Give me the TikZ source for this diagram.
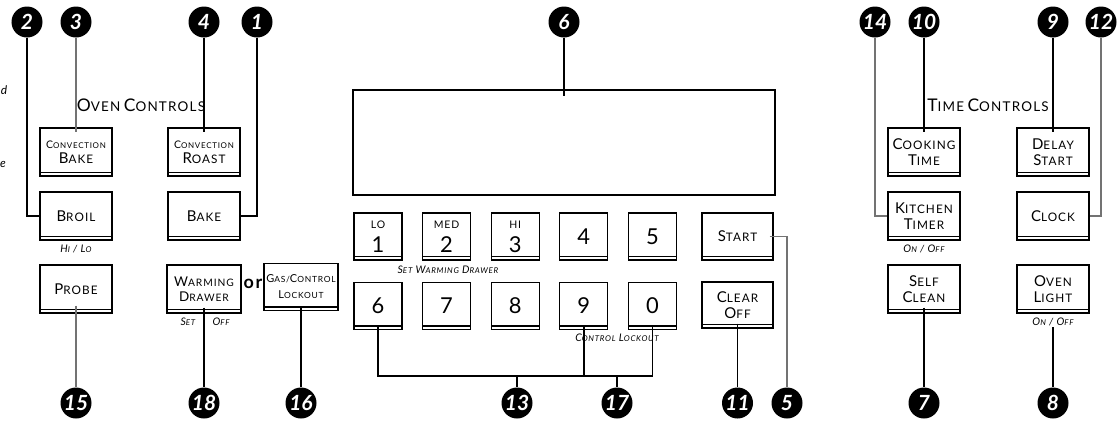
\documentclass[tikz,border=0pt]{standalone}
\usepackage{fontspec}
\setmainfont{Lato}[LetterSpace=9]
\newfontfamily\badgefont{Lato}
\newcommand{\bigsc}[2]{{\fontsize{15}{16}\selectfont #1}{\fontsize{11.8}{16}\selectfont #2}}
\newcommand{\midsc}[2]{{\fontsize{13.5}{16}\selectfont #1}{\fontsize{10.3}{16}\selectfont #2}}
\newcommand{\smlsc}[2]{{\fontsize{10.5}{12}\selectfont #1}{\fontsize{8}{12}\selectfont #2}}
\newcommand{\gassc}[2]{{\fontsize{11}{13}\selectfont #1}{\fontsize{8.5}{13}\selectfont #2}}
\newcommand{\ttlsc}[2]{{\fontsize{17.5}{20}\selectfont #1}{\fontsize{13.5}{20}\selectfont #2}}
\begin{document}
\begin{tikzpicture}[x=1bp, y=-1bp,
    every node/.append style={font=\rmfamily},
    btn/.style={draw, line width=1.3bp, minimum width=72bp, minimum height=48bp, inner sep=0pt, align=center, font=\fontsize{12}{15.5}\selectfont,
        path picture={\draw[line width=1.4bp] ([yshift=3.5bp]path picture bounding box.south west) -- ([yshift=3.5bp]path picture bounding box.south east);}},
    key/.style={btn, minimum width=48bp, minimum height=47bp, font=\fontsize{22}{24}\selectfont},
    badge/.style={circle, fill=black, minimum size=31bp, inner sep=0pt, text=white, font=\badgefont\bfseries\itshape\fontsize{21}{21}\selectfont},
    tag/.style={inner sep=1pt, font=\itshape},
    wire/.style={line width=1.6bp},
    faint/.style={line width=1.1bp, black!55},
]
\useasboundingbox (0,0) rectangle (1118,422);

% numbered callouts
\node[badge] (b2) at (27,22) {2};
\node[badge] (b3) at (76,22) {3};
\node[badge] (b4) at (204,22) {4};
\node[badge] (b1) at (257,22) {1};
\node[badge] (b6) at (564,22) {6};
\node[badge] (b14) at (875,22) {14};
\node[badge] (b10) at (924,22) {10};
\node[badge] (b9) at (1053,22) {9};
\node[badge] (b12) at (1101,22) {12};
\node[badge] (b15) at (76,403) {15};
\node[badge] (b18) at (204,403) {18};
\node[badge] (b16) at (301,403) {16};
\node[badge] (b13) at (517,403) {13};
\node[badge] (b17) at (617,403) {17};
\node[badge] (b11) at (737.5,403) {11};
\node[badge] (b5) at (787,403) {5};
\node[badge] (b7) at (924,403) {7};
\node[badge] (b8) at (1053,403) {8};

\node[font=\itshape\fontsize{12}{12}\selectfont] (fragd) at (4,90) {d};
\node[font=\itshape\fontsize{12}{12}\selectfont] (frage) at (3,164) {e};

\node (oven) at (141,105) {\ttlsc{O}{VEN} \ttlsc{C}{ONTROLS}};
\node (time) at (988,105) {\ttlsc{T}{IME} \ttlsc{C}{ONTROLS}};

% oven controls
\node[btn] (cbake) at (76,152) {\smlsc{C}{ONVECTION}\\\bigsc{B}{AKE}};
\node[btn] (broil) at (76,216) {\bigsc{B}{ROIL}};
\node[btn] (probe) at (76,289) {\bigsc{P}{ROBE}};
\node[btn] (croast) at (204,152) {\smlsc{C}{ONVECTION}\\\bigsc{R}{OAST}};
\node[btn] (bake) at (204,216) {\bigsc{B}{AKE}};
\node[btn, minimum width=74bp] (warm) at (204,289) {\midsc{W}{ARMING}\\\midsc{D}{RAWER}};
\node[font=\bfseries\fontsize{18}{18}\selectfont, inner sep=0pt] (or) at (253,284) {or};
\node[btn, minimum width=74bp, minimum height=47bp, font=\fontsize{11}{16}\selectfont] (gas) at (301,287) {\gassc{G}{AS/}\gassc{C}{ONTROL}\\\gassc{L}{OCKOUT}};
\node[tag] (hilo) at (76,249) {\smlsc{H}{I} / \smlsc{L}{O}};
\node[tag] (set) at (188,322) {\smlsc{S}{ET}};
\node[tag] (off) at (221,322) {\smlsc{O}{FF}};

% display and keypad
\node[draw, line width=1.5bp, minimum width=422bp, minimum height=105bp] (disp) at (564,142.5) {};
\node[key] (k1) at (378,236.5) {{\fontsize{10.5}{10}\selectfont LO}\\1};
\node[key] (k2) at (446.6,236.5) {{\fontsize{10.5}{10}\selectfont MED}\\2};
\node[key] (k3) at (515.2,236.5) {{\fontsize{10.5}{10}\selectfont HI}\\3};
\node[key] (k4) at (583.8,236.5) {4};
\node[key] (k5) at (652.4,236.5) {5};
\node[key] (k6) at (378,306) {6};
\node[key] (k7) at (446.6,306) {7};
\node[key] (k8) at (515.2,306) {8};
\node[key] (k9) at (583.8,306) {9};
\node[key] (k0) at (652.4,306) {0};
\node[tag] (swd) at (448,270) {\smlsc{S}{ET} \smlsc{W}{ARMING} \smlsc{D}{RAWER}};
\node[tag] (ctl) at (617,338) {\smlsc{C}{ONTROL} \smlsc{L}{OCKOUT}};
\node[btn, minimum width=71bp, minimum height=47bp] (start) at (737.5,236.5) {\bigsc{S}{TART}};
\node[btn, minimum width=71bp, minimum height=46bp] (clear) at (737.5,305) {\bigsc{C}{LEAR}\\\bigsc{O}{FF}};

% time controls
\node[btn] (cooktime) at (924,152) {\bigsc{C}{OOKING}\\\bigsc{T}{IME}};
\node[btn] (delay) at (1053,152) {\bigsc{D}{ELAY}\\\bigsc{S}{TART}};
\node[btn] (ktimer) at (924,216) {\bigsc{K}{ITCHEN}\\\bigsc{T}{IMER}};
\node[btn] (clock) at (1053,216) {\bigsc{C}{LOCK}};
\node[btn] (selfclean) at (924,289) {\bigsc{S}{ELF}\\\bigsc{C}{LEAN}};
\node[btn] (ovenlight) at (1053,289) {\bigsc{O}{VEN}\\\bigsc{L}{IGHT}};
\node[tag] (onoff1) at (924,249) {\smlsc{O}{N} / \smlsc{O}{FF}};
\node[tag] (onoff2) at (1053,322) {\smlsc{O}{N} / \smlsc{O}{FF}};

\coordinate (j13) at (517,376);
\coordinate (j17) at (617,376);

\draw[wire] (b2) |- (broil.west);
\draw[faint] (b3) -- ([yshift=-5bp]cbake.north);
\draw[wire] (b4) -- ([yshift=-5bp]croast.north);
\draw[wire] (b1) |- (bake.east);
\draw[wire] (b6) -- ([yshift=-7bp]disp.north);
\draw[faint] ([yshift=8bp]probe.south) -- (b15);
\draw[wire] ([yshift=6bp]warm.south) -- (b18);
\draw[wire] ([yshift=3bp]gas.south) -- (b16);
\draw[wire] ([yshift=3bp]k6.south) |- (j17) -| ([yshift=3bp]k0.south);
\draw[wire] ([yshift=3bp]k9.south) -- (k9.south |- j13);
\draw[wire] (j13) -- (b13);
\draw[wire] (j17) -- (b17);
\draw[wire] ([yshift=5bp]clear.south) -- (b11);
\draw[faint] ([xshift=-4bp]start.east) -| (b5);
\draw[faint] (b14) |- (ktimer.west);
\draw[wire] (b10) -- ([yshift=-5bp]cooktime.north);
\draw[wire] (b9) -- ([yshift=-5bp]delay.north);
\draw[faint] (b12) |- (clock.east);
\draw[wire] ([yshift=6bp]selfclean.south) -- (b7);
\draw[wire] (onoff2) -- (b8);

\end{tikzpicture}
\end{document}
